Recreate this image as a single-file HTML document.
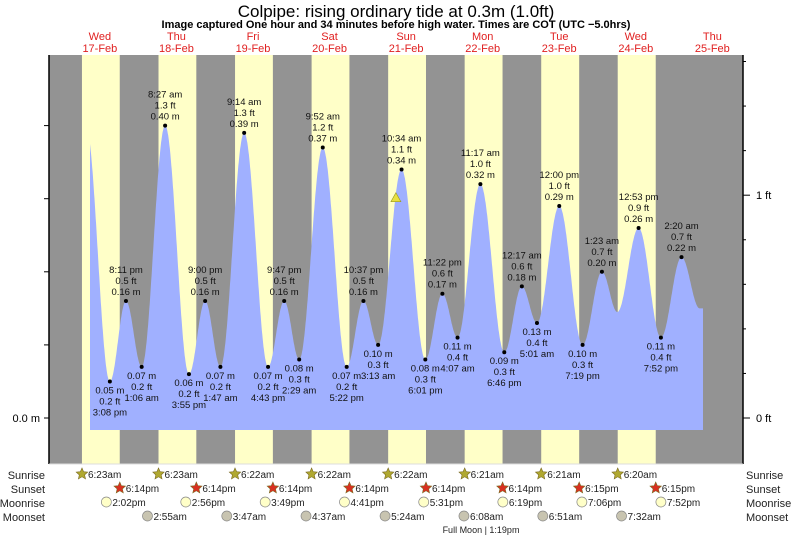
<!DOCTYPE html>
<html><head><meta charset="utf-8">
<style>
body{margin:0;background:#fff;}
svg{display:block;font-family:"Liberation Sans",sans-serif;}
</style></head>
<body>
<svg id="c" width="793" height="538" viewBox="0 0 793 538">
<text x="396" y="17" text-anchor="middle" font-size="17">Colpipe: rising  ordinary tide at 0.3m (1.0ft)</text>
<text x="396" y="28" text-anchor="middle" font-size="11" font-weight="bold">Image captured One hour and 34 minutes before high water. Times are COT (UTC −5.0hrs)</text>
<g id="bands"></g><g id="tide"></g><g id="axes"></g><g id="labels"></g><g id="astro"></g>
</svg>
<script>
const dayNames=["Wed","Thu","Fri","Sat","Sun","Mon","Tue","Wed","Thu"];
const dayDates=["17-Feb","18-Feb","19-Feb","20-Feb","21-Feb","22-Feb","23-Feb","24-Feb","25-Feb"];
// extremes: hours since Wed 17-Feb 00:00, heights in m
const tideHours=[7.6,15.13,20.18,25.1,32.45,39.92,45,49.78,57.23,64.72,69.78,74.48,81.87,89.37,94.62,99.22,106.57,114.02,119.37,124.12,131.28,138.77,144.28,149.02,156,163.32,169.38,174.2,180.88,187.87,194.33,200];
const tideHeights=[0.40,0.05,0.16,0.07,0.40,0.06,0.16,0.07,0.39,0.07,0.16,0.08,0.37,0.07,0.16,0.10,0.34,0.08,0.17,0.11,0.32,0.09,0.18,0.13,0.29,0.10,0.20,0.145,0.26,0.11,0.22,0.15];
const tideTimes=["","3:08 pm","8:11 pm","1:06 am","8:27 am","3:55 pm","9:00 pm","1:47 am","9:14 am","4:43 pm","9:47 pm","2:29 am","9:52 am","5:22 pm","10:37 pm","3:13 am","10:34 am","6:01 pm","11:22 pm","4:07 am","11:17 am","6:46 pm","12:17 am","5:01 am","12:00 pm","7:19 pm","1:23 am","","12:53 pm","7:52 pm","2:20 am",""];
const sunriseHours=[6.38,30.38,54.37,78.37,102.37,126.35,150.35,174.33];
const sunriseText=["6:23am","6:23am","6:22am","6:22am","6:22am","6:21am","6:21am","6:20am"];
const sunsetHours=[18.23,42.23,66.23,90.23,114.23,138.23,162.25,186.25];
const sunsetText=["6:14pm","6:14pm","6:14pm","6:14pm","6:14pm","6:14pm","6:15pm","6:15pm"];
const moonriseHours=[14.03,38.93,63.82,88.68,113.52,138.32,163.1,187.87];
const moonriseText=["2:02pm","2:56pm","3:49pm","4:41pm","5:31pm","6:19pm","7:06pm","7:52pm"];
const moonsetHours=[26.92,51.78,76.62,101.4,126.13,150.85,175.53];
const moonsetText=["2:55am","3:47am","4:37am","5:24am","6:08am","6:51am","7:32am"];
const nowHour=104.8, nowHeight=0.30;

const NS="http://www.w3.org/2000/svg";
const X0=49,X1=743,Y0=55,Y1=464;
const xs=t=>61.6+t*3.19;
const ys=h=>418-h*731;
function mk(tag,attrs,parent,txt){const e=document.createElementNS(NS,tag);for(const k in attrs)e.setAttribute(k,attrs[k]);if(txt!==undefined)e.textContent=txt;parent.appendChild(e);return e;}
const bands=document.getElementById('bands'),tide=document.getElementById('tide'),axes=document.getElementById('axes'),labels=document.getElementById('labels'),astro=document.getElementById('astro');

let r=mk('rect',{x:X0,y:Y0,width:X1-X0,height:Y1-Y0,fill:'#939393'},bands);


for(let i=0;i<sunriseHours.length;i++){
  const a=xs(sunriseHours[i]),b=xs(sunsetHours[i]);
  const d=mk('rect',{x:a,y:Y0,width:b-a,height:Y1-Y0,fill:'#ffffc8'},bands);
  
  
}
for(let i=0;i<dayNames.length;i++){
  const x=xs(12+24*i);
  const t1=mk('text',{x:x,y:40,'text-anchor':'middle','font-size':11,fill:'#e02020'},labels,dayNames[i]);
  
  
  const t2=mk('text',{x:x,y:52,'text-anchor':'middle','font-size':11,fill:'#e02020'},labels,dayDates[i]);
  
  
}
function hAt(t){
  for(let i=0;i<tideHours.length-1;i++){
    if(t>=tideHours[i]&&t<=tideHours[i+1]){
      const f=(t-tideHours[i])/(tideHours[i+1]-tideHours[i]);
      return tideHeights[i]+(tideHeights[i+1]-tideHeights[i])*(1-Math.cos(Math.PI*f))/2;
    }
  }
  return tideHeights[tideHeights.length-1];
}
const tStart=(90-61.6)/3.19,tEnd=(703-61.6)/3.19;
let d=`M${xs(tStart)},430`;
for(let t=tStart;t<=tEnd;t+=0.1)d+=` L${xs(t).toFixed(1)},${ys(hAt(t)).toFixed(1)}`;
d+=` L${xs(tEnd)},${ys(hAt(tEnd))} L${xs(tEnd)},430 Z`;
const p=mk('path',{d:d,fill:'#a0b0ff'},tide);


for(let i=0;i<tideHours.length;i++){
  if(!tideTimes[i])continue;
  const x=xs(tideHours[i]),y=ys(tideHeights[i]);
  const isHigh=(i>0&&tideHeights[i]>tideHeights[i-1]);
  const dot=mk('circle',{cx:x,cy:y,r:2,fill:'#000'},labels);
  
  
  const m=tideHeights[i].toFixed(2)+' m',ft=(tideHeights[i]*3.2808).toFixed(1)+' ft';
  const lines=isHigh?[tideTimes[i],ft,m]:[m,ft,tideTimes[i]];
  const base=isHigh?y-28:y+12;
  lines.forEach((s,k)=>{
    const t=mk('text',{x:x,y:base+k*11,'text-anchor':'middle','font-size':9.5,fill:'#111'},labels,s);
    
    
  });
}
const tri=mk('polygon',{points:`${xs(nowHour)},${ys(nowHeight)-6} ${xs(nowHour)-5},${ys(nowHeight)+3} ${xs(nowHour)+5},${ys(nowHeight)+3}`,fill:'#e8e040',stroke:'#9a9a20','stroke-width':0.6},labels);


let l=mk('line',{x1:X0,y1:Y0,x2:X0,y2:Y1,stroke:'#000','stroke-width':1.5},axes);


l=mk('line',{x1:X1,y1:Y0,x2:X1,y2:Y1,stroke:'#000','stroke-width':1.5},axes);


l=mk('line',{x1:X0,y1:Y1,x2:X1,y2:Y1,stroke:'#ddd','stroke-width':1},axes);


for(let v=0;v<=0.5;v+=0.1){const y=ys(v);if(y<Y0)continue;const tk=mk('line',{x1:X0-5,y1:y,x2:X0,y2:y,stroke:'#000'},axes);}
let tl=mk('text',{x:40,y:ys(0)+4,'text-anchor':'end','font-size':11},axes,'0.0 m');


for(let k=0;k<=9;k++){const f=k*0.2;const y=ys(f*0.3048);if(y<Y0)continue;const major=(k%5===0);const tk=mk('line',{x1:X1,y1:y,x2:X1+(major?7:3),y2:y,stroke:'#000'},axes);}
[0,1].forEach(f=>{const t=mk('text',{x:756,y:ys(f*0.3048)+4,'font-size':11},axes,f+' ft');});
const rows=[["Sunrise",475],["Sunset",489],["Moonrise",503],["Moonset",517]];
rows.forEach(([n,y])=>{
  const a=mk('text',{x:45,y:y+4,'text-anchor':'end','font-size':11,fill:'#222'},astro,n);
  
  
  const b=mk('text',{x:746,y:y+4,'font-size':11,fill:'#222'},astro,n);
  
  
});
function star(cx,cy,fill){let pts=[];for(let k=0;k<10;k++){const rr=k%2?2.8:6,a=-Math.PI/2+k*Math.PI/5;pts.push((cx+rr*Math.cos(a)).toFixed(1)+','+(cy+rr*Math.sin(a)).toFixed(1));}return mk('polygon',{points:pts.join(' '),fill:fill,stroke:'#7a6a20','stroke-width':0.6},astro);}
function item(x,y,txt,kind){
  let ic;
  if(kind==='sunrise')ic=star(x,y,'#b0a830');
  else if(kind==='sunset')ic=star(x,y,'#d83020');
  else ic=mk('circle',{cx:x,cy:y,r:5,fill:kind==='moonrise'?'#ffffc8':'#c8c4b0',stroke:'#888','stroke-width':0.7},astro);
  
  
  const t=mk('text',{x:x+6,y:y+4,'font-size':10,fill:'#222'},astro,txt);
  
  
}
sunriseHours.forEach((h,i)=>item(xs(h),474,sunriseText[i],'sunrise'));
sunsetHours.forEach((h,i)=>item(xs(h),488,sunsetText[i],'sunset'));
moonriseHours.forEach((h,i)=>item(xs(h),502,moonriseText[i],'moonrise'));
moonsetHours.forEach((h,i)=>item(xs(h),516,moonsetText[i],'moonset'));
const fm=mk('text',{x:481,y:533,'text-anchor':'middle','font-size':9,fill:'#222'},astro,'Full Moon | 1:19pm');


</script>
</body></html>
